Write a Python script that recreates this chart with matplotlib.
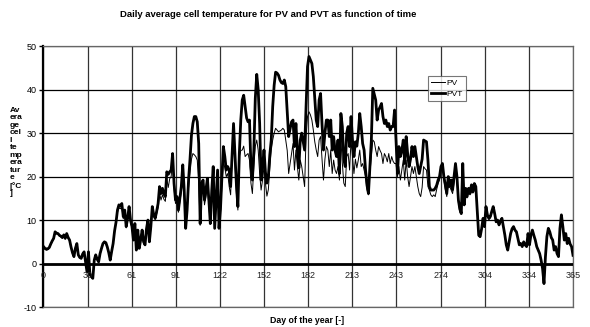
"""
Daily average cell temperature for PV and PVT over the year.
"""
import numpy as np
import matplotlib
matplotlib.use('Agg')
import matplotlib.pyplot as plt

plt.rcParams['font.family'] = ['Liberation Sans', 'DejaVu Sans']

# daily values, day 0 .. 365
pvt = [
    3.9, 3.5, 3.3, 3.4, 3.7, 4.5, 5.2, 5.8, 7.3, 7.0,
    6.9, 6.5, 6.3, 6.0, 6.6, 5.8, 6.9, 6.0, 5.4, 3.8,
    2.5, 1.6, 3.5, 4.6, 2.0, 1.4, 1.2, 2.2, 2.7, 0.4,
    -1.9, 2.7, -2.5, -3.0, -3.4, 0.8, 2.0, 1.0, 0.4, 2.3,
    3.5, 4.6, 5.0, 4.8, 3.8, 2.5, 0.8, 2.8, 4.6, 7.5,
    9.5, 12.3, 13.5, 13.2, 13.8, 10.8, 12.3, 8.5, 10.4, 13.1,
    10.0, 8.5, 5.4, 9.2, 3.1, 7.7, 3.5, 5.5, 7.7, 5.0,
    4.3, 8.0, 10.0, 5.0, 8.5, 13.1, 11.2, 10.4, 12.0, 13.8,
    17.7, 16.1, 17.3, 16.0, 15.4, 21.1, 20.5, 21.1, 21.5, 25.3,
    18.4, 14.6, 15.4, 12.3, 15.0, 17.7, 22.7, 16.9, 8.1, 12.3,
    19.2, 24.0, 29.5, 32.2, 33.8, 33.8, 32.6, 27.6, 9.2, 18.4,
    19.2, 14.6, 17.0, 19.6, 14.6, 9.2, 16.9, 22.3, 8.1, 14.6,
    21.5, 8.1, 12.5, 20.0, 26.9, 24.6, 21.5, 22.3, 21.5, 17.7,
    25.0, 32.2, 25.0, 18.0, 13.1, 25.3, 33.0, 37.6, 38.7, 36.0,
    33.5, 32.6, 33.0, 22.3, 19.2, 26.0, 38.0, 43.5, 40.0, 32.2,
    19.2, 22.3, 26.1, 21.0, 18.5, 20.0, 25.0, 28.4, 36.1, 41.0,
    44.0, 43.8, 43.3, 42.2, 41.6, 41.4, 42.2, 40.7, 35.0, 29.2,
    31.0, 32.6, 33.0, 26.9, 32.2, 26.1, 22.0, 28.4, 30.0, 28.0,
    26.1, 36.1, 45.3, 47.6, 46.8, 46.0, 43.0, 38.0, 33.0, 31.5,
    37.6, 39.1, 32.0, 26.1, 30.0, 33.0, 33.0, 29.2, 33.0, 26.1,
    29.2, 26.0, 24.6, 28.4, 20.7, 34.5, 31.5, 24.0, 22.3, 30.0,
    31.5, 26.9, 33.8, 28.4, 24.6, 28.0, 27.0, 29.9, 34.5, 31.5,
    27.6, 26.1, 21.5, 18.0, 16.1, 22.3, 28.4, 40.3, 39.0, 37.6,
    33.0, 35.3, 36.0, 36.8, 33.8, 32.2, 33.0, 31.5, 32.2, 30.7,
    31.5, 31.5, 35.3, 28.4, 20.7, 26.9, 24.6, 26.0, 28.4, 23.0,
    29.2, 25.3, 22.3, 24.0, 26.9, 24.6, 26.9, 24.6, 22.3, 20.7,
    22.3, 24.0, 28.4, 28.2, 28.0, 23.8, 17.7, 16.9, 16.9, 16.9,
    17.3, 18.0, 19.2, 20.0, 22.3, 23.0, 20.0, 18.0, 16.1, 20.0,
    17.7, 19.2, 17.0, 20.0, 23.0, 20.0, 14.6, 12.5, 11.5, 23.0,
    13.5, 17.3, 15.4, 17.3, 16.1, 18.1, 16.5, 18.4, 17.7, 12.0,
    6.5, 6.2, 8.0, 10.4, 8.5, 13.1, 11.2, 10.4, 10.8, 12.0,
    13.1, 11.5, 9.6, 10.0, 8.9, 9.8, 10.4, 8.5, 6.6, 4.3,
    3.1, 5.0, 6.9, 8.0, 8.5, 7.7, 7.3, 5.8, 4.3, 4.6,
    3.9, 5.0, 4.3, 3.9, 6.9, 4.3, 6.6, 7.7, 6.5, 5.4,
    3.9, 3.1, 2.3, 0.8, -1.1, -4.6, 1.6, 6.2, 8.1, 7.3,
    6.0, 5.4, 3.1, 3.9, 2.3, 1.6, 8.1, 11.2, 8.5, 5.4,
    6.9, 4.6, 5.8, 4.5, 3.9, 1.9,
]

pv = [
    3.7, 3.3, 3.1, 3.2, 3.5, 4.3, 5.0, 5.6, 7.0, 6.8,
    6.7, 6.3, 6.1, 5.8, 6.4, 5.6, 6.6, 5.8, 5.2, 3.6,
    2.3, 1.5, 3.3, 4.4, 1.9, 1.3, 1.1, 2.0, 2.5, 0.3,
    -2.0, 2.5, -2.6, -3.1, -3.5, 0.7, 1.8, 0.9, 0.3, 2.1,
    3.3, 4.4, 4.8, 4.6, 3.6, 2.4, 0.7, 2.6, 4.4, 7.2,
    9.3, 11.8, 12.8, 12.6, 13.0, 10.3, 11.6, 8.2, 10.0, 12.4,
    9.6, 8.2, 5.3, 8.8, 3.1, 7.4, 3.5, 5.3, 7.3, 4.9,
    4.2, 7.6, 9.4, 4.9, 8.1, 12.2, 10.8, 10.1, 11.4, 12.9,
    16.2, 14.6, 15.8, 14.8, 14.3, 19.5, 17.5, 19.5, 20.0, 24.2,
    17.2, 13.8, 14.5, 11.8, 14.2, 16.5, 20.5, 16.0, 8.0, 11.8,
    17.5, 21.0, 24.0, 25.3, 25.0, 24.6, 23.8, 18.4, 8.8, 16.5,
    17.5, 13.5, 15.5, 17.5, 13.5, 9.0, 15.5, 19.5, 8.0, 13.5,
    19.0, 8.0, 11.8, 18.0, 23.5, 22.0, 20.0, 20.7, 17.7, 15.8,
    24.5, 29.2, 23.0, 16.0, 12.3, 24.6, 26.0, 26.1, 27.0, 24.6,
    25.0, 25.3, 23.8, 18.5, 16.1, 22.3, 27.0, 28.4, 26.1, 20.7,
    16.9, 19.2, 22.3, 18.5, 15.5, 17.0, 22.0, 26.1, 28.4, 30.0,
    31.1, 30.7, 30.3, 30.5, 30.7, 31.1, 30.7, 28.4, 26.0, 20.7,
    23.0, 25.3, 27.6, 21.5, 26.1, 22.3, 19.2, 23.8, 22.3, 20.0,
    17.7, 29.2, 33.8, 34.9, 34.2, 33.0, 30.7, 28.0, 26.1, 24.6,
    28.4, 29.2, 24.0, 19.2, 24.0, 26.9, 26.1, 22.3, 26.1, 20.7,
    23.8, 21.5, 20.7, 22.3, 19.2, 28.4, 23.0, 18.5, 17.7, 24.6,
    25.3, 21.5, 28.4, 24.6, 20.7, 24.0, 22.0, 23.8, 26.1, 22.3,
    23.0, 21.5, 20.0, 17.0, 15.8, 20.7, 24.6, 28.4, 28.0, 26.1,
    24.6, 26.9, 26.0, 25.3, 23.0, 25.3, 24.6, 23.4, 25.3, 23.0,
    24.6, 23.5, 23.0, 23.0, 20.0, 22.3, 19.2, 21.5, 23.8, 19.2,
    23.8, 20.0, 17.7, 20.0, 22.3, 20.7, 22.3, 20.0, 17.7, 16.1,
    15.4, 17.5, 22.3, 21.8, 21.5, 17.7, 16.9, 15.8, 15.4, 15.8,
    15.4, 17.0, 18.4, 19.2, 21.5, 22.3, 19.2, 17.0, 15.4, 18.4,
    17.7, 16.9, 16.1, 18.5, 20.7, 19.2, 14.0, 11.8, 11.3, 22.0,
    13.3, 16.9, 15.1, 17.0, 15.8, 17.8, 16.2, 18.1, 17.4, 11.8,
    6.3, 6.0, 7.8, 10.1, 8.3, 12.8, 10.9, 10.1, 10.5, 11.7,
    12.8, 11.2, 9.4, 9.8, 8.7, 9.6, 10.2, 8.3, 6.4, 4.2,
    3.0, 4.8, 6.7, 7.8, 8.3, 7.5, 7.1, 5.6, 4.2, 4.5,
    3.8, 4.8, 4.2, 3.8, 6.7, 4.2, 6.4, 7.5, 6.3, 5.3,
    3.8, 3.0, 2.2, 0.7, -1.2, -4.7, 1.5, 6.0, 7.9, 7.1,
    5.8, 5.3, 3.0, 3.8, 2.2, 1.5, 7.9, 10.9, 8.3, 5.3,
    6.7, 4.5, 5.6, 4.4, 3.8, 1.8,
]

tick_labels = ['0', '30', '61', '91', '122', '152', '182',
               '213', '243', '274', '304', '334', '365']
y_ticks = [-10, 0, 10, 20, 30, 40, 50]

days = np.arange(len(pvt))
x_ticks = np.linspace(0, 365, len(tick_labels))

fig = plt.figure(figsize=(5.9, 3.27), dpi=100)
ax = fig.add_axes([0.0737, 0.061, 0.8975, 0.798])

# grid
for xt in x_ticks:
    ax.axvline(xt, color='#333333', lw=0.9, zorder=1)
for yt in y_ticks:
    ax.axhline(yt, color='black', lw=0.9, zorder=1)
ax.axhline(0, color='black', lw=2.0, zorder=3)

ax.plot(days, pv, color='black', lw=0.7, label='PV', zorder=4)
ax.plot(days, pvt, color='black', lw=2.0, label='PVT', zorder=5)

ax.set_xlim(0, 365)
ax.set_ylim(-10, 50)
ax.set_yticks(y_ticks)
ax.set_yticklabels([str(v) for v in y_ticks], fontsize=6.5)
ax.tick_params(axis='y', length=3, width=1, pad=2)
ax.set_xticks([])

# x tick labels sit on the zero line
for xt, lab in zip(x_ticks, tick_labels):
    ax.annotate(lab, xy=(xt, 0), xytext=(0, -5), textcoords='offset points',
                ha='center', va='top', fontsize=6.5, color='#222222', zorder=6)

for side in ['right', 'bottom', 'top']:
    ax.spines[side].set_color('#666666')
    ax.spines[side].set_linewidth(0.9)
ax.spines['left'].set_linewidth(1.6)

leg = ax.legend(loc='upper left', bbox_to_anchor=(0.726, 0.885), fontsize=6,
                frameon=True, fancybox=False, handlelength=1.6,
                handletextpad=0.2, borderpad=0.4, labelspacing=0.3,
                borderaxespad=0)
leg.get_frame().set_edgecolor('#555555')
leg.get_frame().set_linewidth(0.8)
leg.set_zorder(10)

fig.text(0.455, 0.955, 'Daily average cell temperature for PV and PVT as function of time',
         ha='center', va='center', fontsize=6.8, fontweight='bold')
fig.text(0.52, 0.02, 'Day of the year [-]', ha='center', va='center',
         fontsize=6.3, fontweight='bold')
fig.text(0.016, 0.535, 'Av\nera\nge\ncel\nl\nte\nmp\nera\ntur\ne\n[°C\n]',
         ha='left', va='center', fontsize=6.0, fontweight='bold', linespacing=1.1)

fig.savefig('out.png', dpi=100)
